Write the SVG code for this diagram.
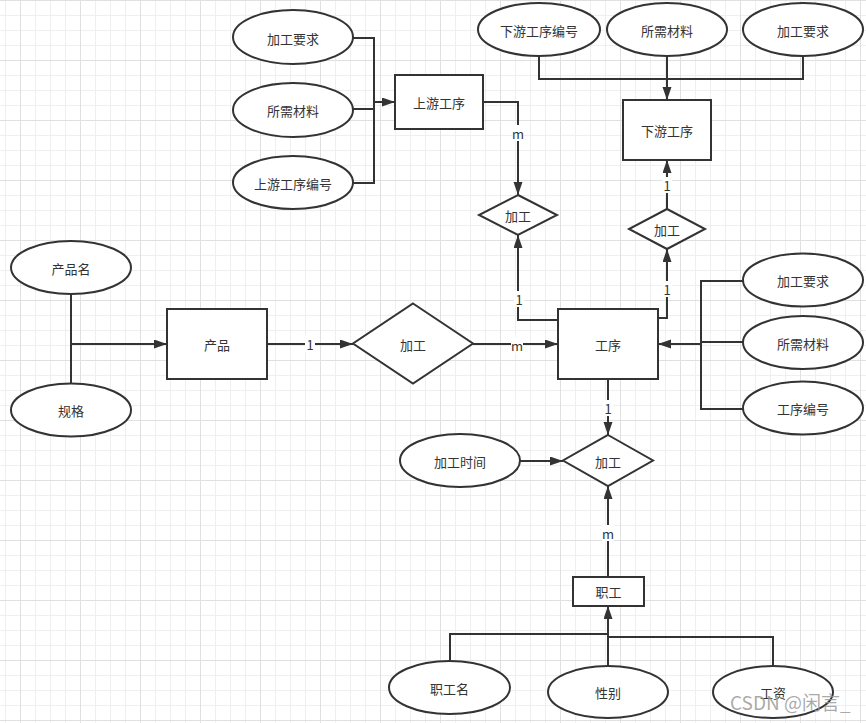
<svg xmlns="http://www.w3.org/2000/svg" width="866" height="723" viewBox="0 0 866 723">
<style>
.shape{fill:#fff;stroke:#333;stroke-width:2}
.conn{fill:none;stroke:#333;stroke-width:2}
.arr{marker-end:url(#arrow)}
text{font-family:"Noto Sans CJK SC","Liberation Sans",sans-serif;font-size:13px;fill:#333;text-anchor:middle;dominant-baseline:central}
.lbl{font-size:13px}
.lblbg{fill:#fff}
.wm{font-size:19px;fill:#9a9a9a;fill-opacity:0.85;text-anchor:start;dominant-baseline:alphabetic}
</style>
<defs>
<pattern id="minor" patternUnits="userSpaceOnUse" x="5" y="0" width="15" height="15">
<rect x="0" y="0" width="15" height="1" fill="#efefef"/>
<rect x="0" y="0" width="1" height="15" fill="#efefef"/>
</pattern>
<pattern id="major" patternUnits="userSpaceOnUse" x="20" y="0" width="60" height="60">
<rect x="0" y="0" width="60" height="1" fill="#e0e0e0"/>
<rect x="0" y="0" width="1" height="60" fill="#e0e0e0"/>
</pattern>
<marker id="arrow" markerUnits="userSpaceOnUse" markerWidth="14" markerHeight="10" refX="13" refY="4.5" orient="auto">
<path d="M0,0 L13,4.5 L0,9 Z" fill="#333"/>
</marker>
</defs>
<rect width="866" height="723" fill="#fff"/>
<rect width="866" height="723" fill="url(#minor)"/>
<rect width="866" height="723" fill="url(#major)"/>

<g id="connectors">
<path class="conn" d="M353,38 H374 V183 H353 M353,109 H374"/>
<path class="conn arr" d="M374,102 H395"/>
<path class="conn" d="M539,56 V79 H803 V56"/>
<path class="conn arr" d="M667,56 V100"/>
<path class="conn" d="M71,294 V384"/>
<path class="conn arr" d="M71,344 H167"/>
<path class="conn arr" d="M267,344 H353"/>
<path class="conn arr" d="M473,344 H558"/>
<path class="conn arr" d="M483,102 H518 V195"/>
<path class="conn arr" d="M667,209 V160"/>
<path class="conn arr" d="M558,320 H518 V235"/>
<path class="conn arr" d="M658,318 H667 V249"/>
<path class="conn" d="M743,281 H701 V409 H743 M743,342 H701"/>
<path class="conn arr" d="M701,344 H658"/>
<path class="conn arr" d="M608,379 V435"/>
<path class="conn arr" d="M520,461 H563"/>
<path class="conn arr" d="M608,577 V486"/>
<path class="conn" d="M450,661 V634 H608 M773,666 V637 H608"/>
<path class="conn arr" d="M608,666 V606"/>
<g id="labels">
<rect class="lblbg" x="512" y="125" width="12" height="16"/><text class="lbl" x="518" y="133">m</text>
<rect class="lblbg" x="662" y="177" width="10" height="16"/><text class="lbl" x="667" y="185">1</text>
<rect class="lblbg" x="305" y="336" width="10" height="16"/><text class="lbl" x="310" y="344">1</text>
<rect class="lblbg" x="511" y="337" width="12" height="16"/><text class="lbl" x="517" y="345">m</text>
<rect class="lblbg" x="514" y="291" width="10" height="16"/><text class="lbl" x="519" y="299">1</text>
<rect class="lblbg" x="662" y="281" width="10" height="16"/><text class="lbl" x="667" y="289">1</text>
<rect class="lblbg" x="603" y="400" width="10" height="16"/><text class="lbl" x="608" y="408">1</text>
<rect class="lblbg" x="602" y="525" width="12" height="16"/><text class="lbl" x="608" y="533">m</text>
</g>
</g>

<g id="attr-up-req"><ellipse class="shape" cx="293" cy="37" rx="60" ry="27"/><text x="293" y="38">加工要求</text></g>
<g id="attr-up-mat"><ellipse class="shape" cx="293" cy="110" rx="60" ry="27"/><text x="293" y="110">所需材料</text></g>
<g id="attr-up-no"><ellipse class="shape" cx="293" cy="182.5" rx="60" ry="26.5"/><text x="293" y="183">上游工序编号</text></g>
<g id="upstream"><rect class="shape" x="395" y="75" width="88" height="54"/><text x="439" y="102">上游工序</text></g>

<g id="attr-down-no"><ellipse class="shape" cx="539" cy="29.5" rx="61" ry="26.5"/><text x="539" y="30">下游工序编号</text></g>
<g id="attr-down-mat"><ellipse class="shape" cx="667" cy="29.5" rx="60" ry="26.5"/><text x="667" y="30">所需材料</text></g>
<g id="attr-down-req"><ellipse class="shape" cx="803" cy="29.5" rx="60" ry="26.5"/><text x="803" y="30">加工要求</text></g>
<g id="downstream"><rect class="shape" x="623" y="100" width="88" height="60"/><text x="667" y="130">下游工序</text></g>

<g id="rel-up"><path class="shape" d="M518,195 L557,215 L518,235 L479,215 Z"/><text x="518" y="215">加工</text></g>
<g id="rel-down"><path class="shape" d="M667,209 L705,229 L667,249 L629,229 Z"/><text x="667" y="229">加工</text></g>

<g id="attr-pname"><ellipse class="shape" cx="71" cy="267.5" rx="60" ry="26.5"/><text x="71" y="268">产品名</text></g>
<g id="attr-spec"><ellipse class="shape" cx="71" cy="410" rx="60" ry="26.5"/><text x="71" y="410">规格</text></g>
<g id="product"><rect class="shape" x="167" y="309" width="100" height="70"/><text x="217" y="344">产品</text></g>
<g id="rel-main"><path class="shape" d="M413,303.5 L473,343.5 L413,383.5 L353,343.5 Z"/><text x="413" y="344">加工</text></g>
<g id="process"><rect class="shape" x="558" y="309" width="100" height="70"/><text x="608" y="344">工序</text></g>

<g id="attr-req"><ellipse class="shape" cx="803" cy="280" rx="60" ry="26.5"/><text x="803" y="280">加工要求</text></g>
<g id="attr-mat"><ellipse class="shape" cx="803" cy="342.5" rx="60" ry="26.5"/><text x="803" y="343">所需材料</text></g>
<g id="attr-pno"><ellipse class="shape" cx="803" cy="408" rx="60" ry="26.5"/><text x="803" y="408">工序编号</text></g>

<g id="attr-time"><ellipse class="shape" cx="460" cy="460.5" rx="60" ry="26.5"/><text x="460" y="461">加工时间</text></g>
<g id="rel-worker"><path class="shape" d="M608,435 L653,460.5 L608,486 L563,460.5 Z"/><text x="608" y="461">加工</text></g>
<g id="worker"><rect class="shape" x="573" y="577" width="71" height="29"/><text x="608.5" y="591.5">职工</text></g>

<g id="attr-wname"><ellipse class="shape" cx="449.5" cy="687.5" rx="60.5" ry="26.5"/><text x="449.5" y="688">职工名</text></g>
<g id="attr-sex"><ellipse class="shape" cx="608" cy="692" rx="60" ry="26"/><text x="608" y="692">性别</text></g>
<g id="attr-wage"><ellipse class="shape" cx="773" cy="692" rx="60" ry="26"/><text x="773" y="692">工资</text></g>

<text class="wm" x="730" y="710">CSDN @闲言_</text>
</svg>
